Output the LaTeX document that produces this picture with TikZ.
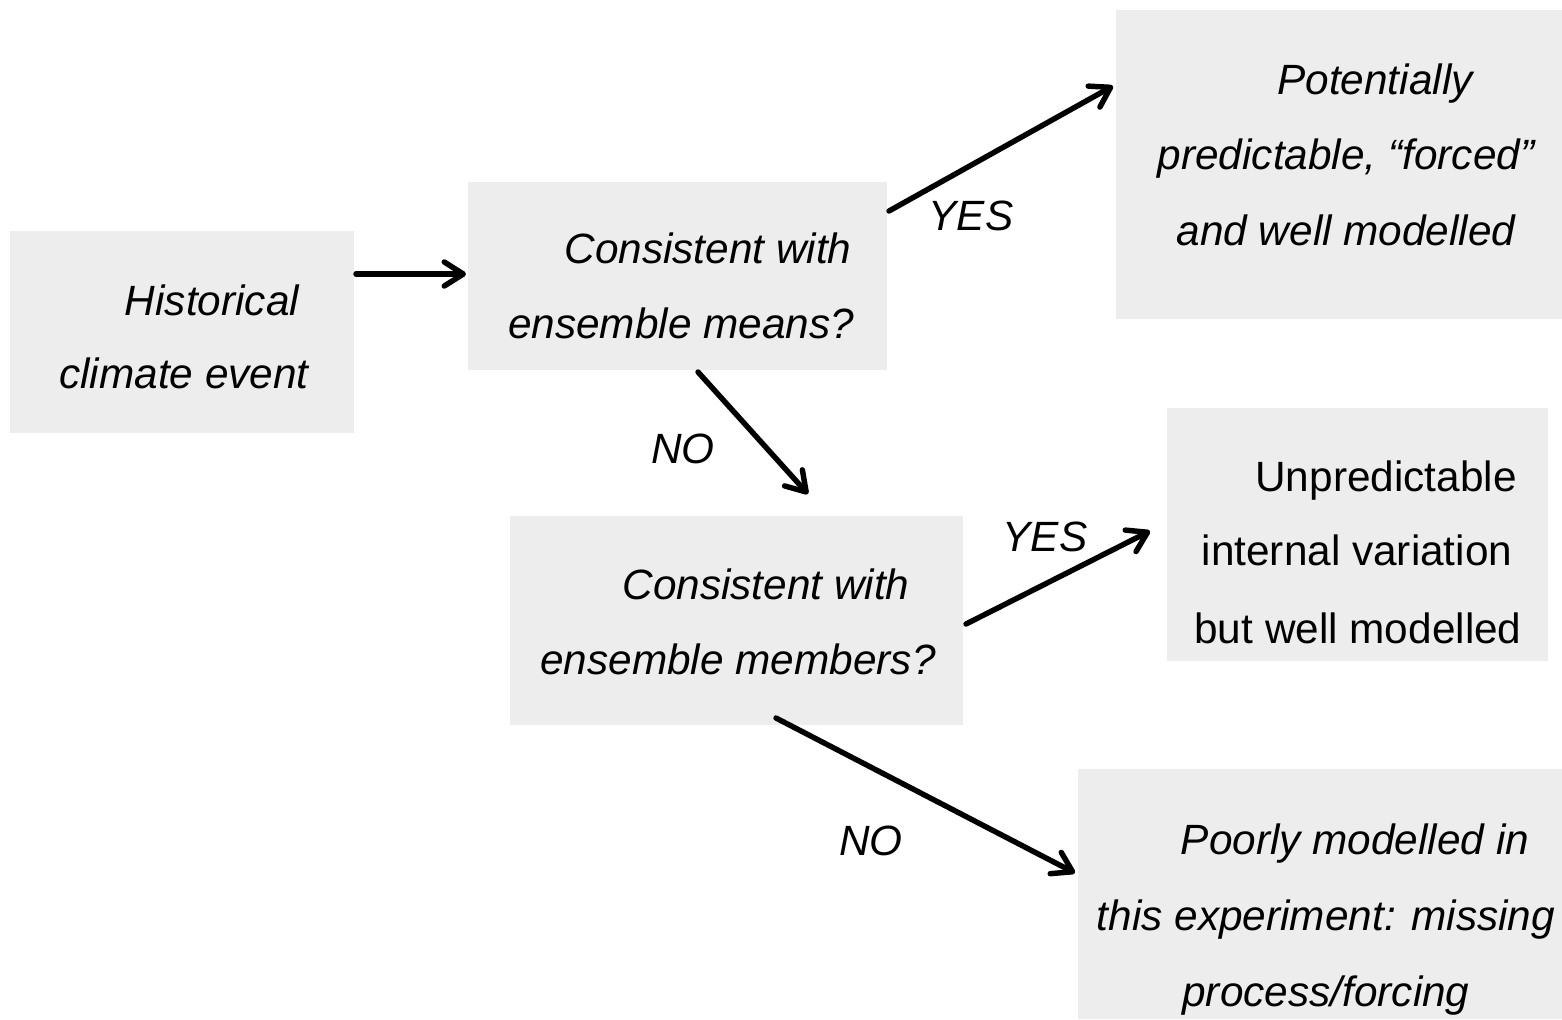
\documentclass[tikz,border=0pt]{standalone}
\usepackage{fontspec}
\setmainfont{Liberation Sans}
\usetikzlibrary{arrows.meta}
\definecolor{boxgray}{HTML}{EDEDED}
\begin{document}
\begin{tikzpicture}[x=0.02cm,y=-0.02cm,
  box/.style={fill=boxgray,draw=none,inner sep=0pt,rectangle},
  txt/.style={anchor=base,inner sep=0pt,font=\fontsize{24.1pt}{29pt}\selectfont\itshape},
  txtup/.style={anchor=base,inner sep=0pt,font=\fontsize{24.1pt}{29pt}\selectfont},
  conn/.style={line width=3.1pt,line cap=round,line join=round,
    -{Straight Barb[length=0.38cm,width=0.48cm,line cap=round,line join=round]}}]
\useasboundingbox (0,0) rectangle (1562,1019);
% boxes
\node[box,minimum width=6.88cm,minimum height=4.04cm] (b1) at (182,332) {};
\node[box,minimum width=8.38cm,minimum height=3.76cm] (b2) at (677.5,276) {};
\node[box,minimum width=8.92cm,minimum height=6.18cm] (b3) at (1339,164.5) {};
\node[box,minimum width=9.06cm,minimum height=4.18cm] (b4) at (736.5,620.5) {};
\node[box,minimum width=7.62cm,minimum height=5.06cm] (b5) at (1357.5,534.5) {};
\node[box,minimum width=9.68cm,minimum height=5.0cm] (b6) at (1320,894) {};
% texts
\node[txt] (t1a) at (212,315) {Historical};
\node[txt] (t1b) at (184,388) {climate event};
\node[txt] (t2a) at (708,263) {Consistent with};
\node[txt] (t2b) at (681,338) {ensemble means?};
\node[txt] (t3a) at (1375,94) {Potentially};
\node[txt] (t3b) at (1346,169) {predictable, “forced”};
\node[txt] (t3c) at (1346,245) {and well modelled};
\node[txt] (t4a) at (766,599) {Consistent with};
\node[txt] (t4b) at (738,674) {ensemble members?};
\node[txtup] (t5a) at (1386,491) {Unpredictable};
\node[txtup] (t5b) at (1357,565) {internal variation};
\node[txtup] (t5c) at (1358,643) {but well modelled};
\node[txt] (t6a) at (1355,854) {Poorly modelled in};
\node[txt] (t6b) at (1326,930) {this experiment: missing};
\node[txt] (t6c) at (1326,1006) {process/forcing};
% labels
\node[txt] (l1) at (971,230) {YES};
\node[txt] (l2) at (683,463) {NO};
\node[txt] (l3) at (1045,551) {YES};
\node[txt] (l4) at (871,855) {NO};
% connector end points
\coordinate (a1s) at (356,274);
\coordinate (a1e) at (466,274);
\coordinate (a2s) at (889,211);
\coordinate (a2e) at (1113,86);
\coordinate (a3s) at (698,372);
\coordinate (a3e) at (808,494);
\coordinate (a4s) at (966,624);
\coordinate (a4e) at (1150,531);
\coordinate (a5s) at (776,718);
\coordinate (a5e) at (1075,873);
\draw[conn] (a1s) -- (a1e);
\draw[conn] (a2s) -- (a2e);
\draw[conn] (a3s) -- (a3e);
\draw[conn] (a4s) -- (a4e);
\draw[conn] (a5s) -- (a5e);
\end{tikzpicture}
\end{document}
